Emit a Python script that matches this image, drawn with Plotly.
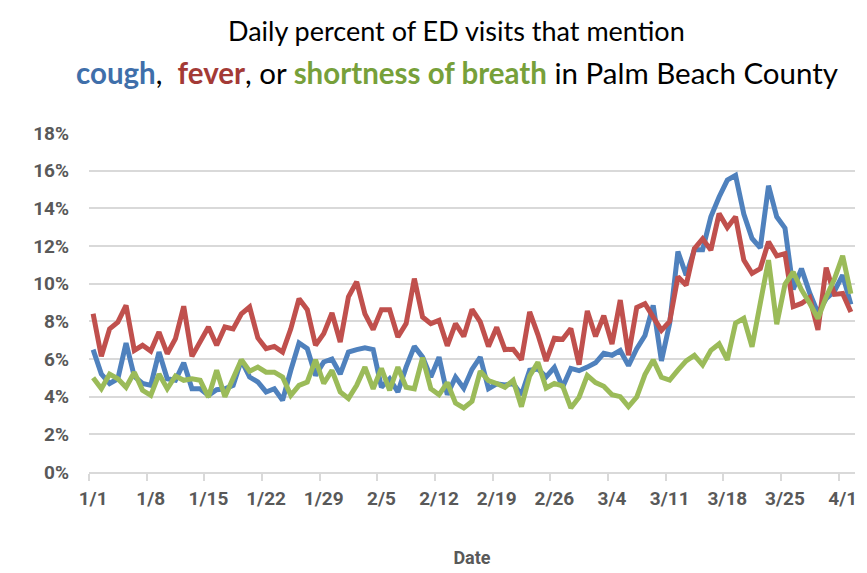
import pandas as pd
import plotly.graph_objects as go

# daily dates 1/1 .. 4/2 (2020)
days = pd.date_range("2020-01-01", "2020-04-02", freq="D")
dates = [f"{d.month}/{d.day}" for d in days]

# percent of ED visits
cough = [6.5, 5.2, 4.7, 4.95, 6.85, 5.08, 4.7, 4.6, 6.37, 4.95,
         4.87, 5.8, 4.42, 4.42, 4.07, 4.37, 4.42, 4.6, 5.93, 5.04,
         4.78, 4.25, 4.42, 3.8, 5.4, 6.85, 6.55, 5.13, 5.84, 6.0,
         5.2, 6.37, 6.5, 6.6, 6.5, 4.5, 4.95, 4.25, 5.57, 6.67,
         6.1, 5.04, 6.1, 4.1, 5.04, 4.45, 5.45, 6.1, 4.42, 4.68,
         4.62, 4.7, 4.1, 5.4, 5.47, 5.05, 5.55, 4.5, 5.5, 5.38,
         5.57, 5.8, 6.3, 6.2, 6.45, 5.65, 6.55, 7.25, 8.85, 5.9,
         7.9, 11.7, 10.45, 11.8, 11.8, 13.55, 14.6, 15.5, 15.75, 13.7,
         12.4, 11.9, 15.2, 13.55, 12.95, 9.7, 10.8, 9.5, 8.45, 9.2,
         9.6, 10.45, 8.9]

fever = [8.4, 6.14, 7.6, 7.96, 8.85, 6.46, 6.73, 6.42, 7.43, 6.28,
         7.08, 8.8, 6.14, 6.9, 7.7, 6.73, 7.7, 7.6, 8.4, 8.76,
         7.12, 6.55, 6.67, 6.37, 7.6, 9.2, 8.62, 6.73, 7.35, 8.44,
         6.9, 9.3, 10.1, 8.4, 7.56, 8.62, 8.62, 7.17, 7.88, 10.27,
         8.23, 7.88, 8.05, 6.7, 7.88, 7.2, 8.63, 7.97, 6.66, 7.68,
         6.5, 6.52, 5.96, 8.5, 7.3, 5.9, 7.1, 7.05, 7.62, 5.7,
         8.55, 7.2, 8.3, 6.8, 9.13, 6.2, 8.74, 8.94, 8.27, 7.52,
         8.0, 10.37, 9.92, 11.86, 12.38, 11.78, 13.72, 12.98, 13.55, 11.25,
         10.55, 10.8, 12.22, 11.48, 11.6, 8.78, 8.95, 9.26, 7.54, 10.85,
         9.43, 9.48, 8.5]

sob = [5.0, 4.42, 5.2, 4.95, 4.5, 5.3, 4.34, 4.07, 5.2, 4.42,
       5.1, 4.87, 4.95, 4.87, 3.98, 5.4, 4.0, 5.04, 5.96, 5.35,
       5.57, 5.3, 5.3, 5.04, 4.07, 4.6, 4.78, 5.96, 4.7, 5.4,
       4.25, 3.9, 4.6, 5.57, 4.42, 5.5, 4.34, 5.57, 4.5, 4.42,
       6.07, 4.42, 4.1, 4.75, 3.66, 3.4, 3.75, 5.35, 4.85, 4.7,
       4.5, 4.87, 3.47, 5.1, 5.82, 4.46, 4.7, 4.57, 3.4, 3.97,
       5.13, 4.75, 4.55, 4.1, 4.0, 3.47, 3.98, 5.17, 5.95, 5.03,
       4.88, 5.41, 5.9, 6.19, 5.68, 6.46, 6.8, 5.95, 7.9, 8.16,
       6.65, 8.96, 11.25, 7.85, 9.97, 10.62, 9.68, 8.96, 8.15, 9.3,
       10.24, 11.48, 9.46]

series = [("cough", cough, "#4F81BD"),
          ("fever", fever, "#C0504D"),
          ("shortness of breath", sob, "#9BBB59")]

fig = go.Figure()
for name, vals, col in series:
    fig.add_trace(go.Scatter(x=dates, y=vals, name=name, mode="lines",
                             line=dict(color=col, width=5)))

tick_font = dict(family="Roboto", size=19, color="#595959")

# page body has an 8px margin, so the figure is laid out 8px up/left
fig.update_layout(
    width=867, height=573,
    margin=dict(l=81, r=20, t=125, b=109, autoexpand=False),
    paper_bgcolor="white", plot_bgcolor="white",
    showlegend=False,
    xaxis=dict(type="category", dtick=7, tickson="boundaries", automargin=False,
               ticks="outside", ticklen=7, tickcolor="#D9D9D9", tickwidth=1.5,
               showgrid=False, showline=True, linecolor="#D9D9D9", linewidth=2,
               tickangle=0, tickfont=tick_font, range=[-0.5, 92.5],
               ticklabelstandoff=8,
               title=dict(text="<b>Date</b>", font=dict(family="Roboto", size=18, color="#595959"),
                          standoff=43)),
    yaxis=dict(range=[0, 18], dtick=2, showgrid=True, automargin=False,
               gridcolor="#D9D9D9", gridwidth=1.5, zeroline=False,
               tickfont=tick_font, ticks="", showline=False, ticklabelstandoff=19),
)
fig.update_xaxes(tickprefix="<b>", ticksuffix="</b>")
fig.update_yaxes(tickprefix="<b>", ticksuffix="%</b>")

fig.add_annotation(text="Daily percent of ED visits that mention",
                   xref="paper", yref="paper", x=0.48, y=(464 - 22) / 339,
                   showarrow=False, font=dict(family="Lato", size=27, color="#000000"),
                   xanchor="center", yanchor="middle")
fig.add_annotation(text="<b><span style='color:#3F6FAA'>cough</span></b>,  "
                        "<b><span style='color:#A33A36'>fever</span></b>, or "
                        "<b><span style='color:#77A03A'>shortness of breath</span></b> "
                        "in Palm Beach County",
                   xref="paper", yref="paper", x=0.48, y=(464 - 64) / 339,
                   showarrow=False, font=dict(family="Lato", size=29.5, color="#000000"),
                   xanchor="center", yanchor="middle")

fig.write_html("out.html")
